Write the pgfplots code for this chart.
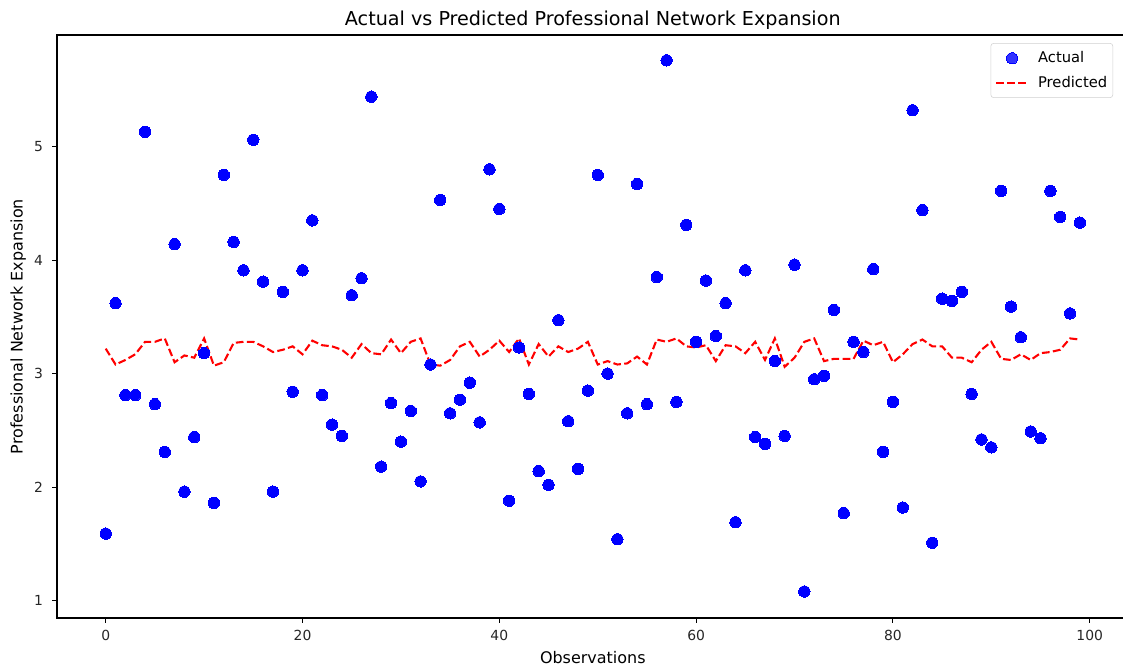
\documentclass[border=0pt]{standalone}
\usepackage{fontspec}
\setmainfont{DejaVu Sans}
\usepackage{pgfplots}
\usepackage{pgfplotstable}
\pgfplotsset{compat=1.18}

\pgfplotstableread{
i actual predicted
0 1.59 3.22
1 3.62 3.08
2 2.81 3.12
3 2.81 3.17
4 5.13 3.28
5 2.73 3.28
6 2.31 3.31
7 4.14 3.10
8 1.96 3.16
9 2.44 3.14
10 3.18 3.31
11 1.86 3.07
12 4.75 3.10
13 4.16 3.27
14 3.91 3.28
15 5.06 3.28
16 3.81 3.24
17 1.96 3.19
18 3.72 3.21
19 2.84 3.24
20 3.91 3.17
21 4.35 3.29
22 2.81 3.25
23 2.55 3.24
24 2.45 3.21
25 3.69 3.14
26 3.84 3.26
27 5.44 3.18
28 2.18 3.17
29 2.74 3.30
30 2.40 3.18
31 2.67 3.28
32 2.05 3.31
33 3.08 3.08
34 4.53 3.07
35 2.65 3.12
36 2.77 3.24
37 2.92 3.28
38 2.57 3.15
39 4.80 3.21
40 4.45 3.29
41 1.88 3.19
42 3.23 3.31
43 2.82 3.08
44 2.14 3.26
45 2.02 3.15
46 3.47 3.24
47 2.58 3.19
48 2.16 3.22
49 2.85 3.28
50 4.75 3.08
51 3.00 3.11
52 1.54 3.08
53 2.65 3.09
54 4.67 3.15
55 2.73 3.08
56 3.85 3.30
57 5.76 3.28
58 2.75 3.31
59 4.31 3.24
60 3.28 3.23
61 3.82 3.25
62 3.33 3.11
63 3.62 3.25
64 1.69 3.24
65 3.91 3.18
66 2.44 3.28
67 2.38 3.12
68 3.11 3.31
69 2.45 3.06
70 3.96 3.14
71 1.08 3.28
72 2.95 3.31
73 2.98 3.11
74 3.56 3.13
75 1.77 3.13
76 3.28 3.13
77 3.19 3.29
78 3.92 3.25
79 2.31 3.28
80 2.75 3.10
81 1.82 3.17
82 5.32 3.26
83 4.44 3.30
84 1.51 3.24
85 3.66 3.24
86 3.64 3.14
87 3.72 3.14
88 2.82 3.10
89 2.42 3.21
90 2.35 3.28
91 4.61 3.13
92 3.59 3.12
93 3.32 3.17
94 2.49 3.12
95 2.43 3.18
96 4.61 3.19
97 4.38 3.21
98 3.53 3.31
99 4.33 3.30
}\datatable

\begin{document}
\fontsize{10bp}{12bp}\selectfont
\begin{tikzpicture}
\begin{axis}[
  scale only axis,
  width=771.55bp, height=419.76bp,
  xmin=-4.95, xmax=103.95, ymin=0.8465, ymax=5.9835,
  xtick={0,20,40,60,80,100}, ytick={1,2,3,4,5},
  tick pos=left, tick align=outside,
  major tick length=3.5bp,
  every tick/.style={black, line width=0.8bp},
  axis line style={black, line width=0.8bp},
  /pgf/number format/assume math mode=true,
  ticklabel style={font=\fontsize{10bp}{12bp}\selectfont, text=black!85},
  xticklabel style={inner sep=0pt, anchor=north, yshift=-5.1bp},
  yticklabel style={inner sep=0pt, anchor=east, xshift=-6.4bp},
  title={Actual vs Predicted Professional Network Expansion},
  title style={font=\fontsize{13.8bp}{16bp}\selectfont, at={(axis description cs:0.5,1)}, anchor=base, yshift=0.6bp, inner sep=0pt},
  xlabel={Observations},
  xlabel style={font=\fontsize{11.5bp}{13bp}\selectfont, at={(axis description cs:0.5,0)}, anchor=base, yshift=-32.4bp, inner sep=0pt},
  ylabel={Professional Network Expansion},
  ylabel style={font=\fontsize{11.5bp}{13bp}\selectfont, at={(axis description cs:0,0.5)}, anchor=center, yshift=27.9bp, inner sep=0pt},
  legend style={at={(axis description cs:1,1)}, anchor=north east, xshift=-11.2bp, yshift=-5.8bp,
    draw=black!18, rounded corners=2bp, fill=white, fill opacity=0.8, text opacity=1,
    font=\fontsize{10.6bp}{12.5bp}\selectfont, inner xsep=3bp, inner ysep=5bp, row sep=6bp, column sep=5.5bp,
    nodes={inner sep=1pt}},
  legend cell align=left,
  legend image code/.code={\draw[mark repeat=2,mark phase=2,#1] plot coordinates {(0bp,0bp) (11.5bp,0bp) (23bp,0bp)};},
]
\addplot[only marks, mark=*, mark size=4.1bp, mark options={fill=blue, draw=blue, line width=0pt}, color=blue]
  table[x=i, y=actual] {\datatable};
\addlegendentry{Actual}
\addplot[color=red, line width=1.5bp, dash pattern=on 5.55bp off 2.4bp, mark=none]
  table[x=i, y=predicted] {\datatable};
\addlegendentry{Predicted}
\coordinate (SW) at (rel axis cs:0,0);
\coordinate (NE) at (rel axis cs:1,1);
\end{axis}
\pgfresetboundingbox
\path[use as bounding box] ([shift={(-41.04bp,-36bp)}]SW) rectangle ([shift={(-4.03bp,25.2bp)}]NE);
\end{tikzpicture}
\end{document}
